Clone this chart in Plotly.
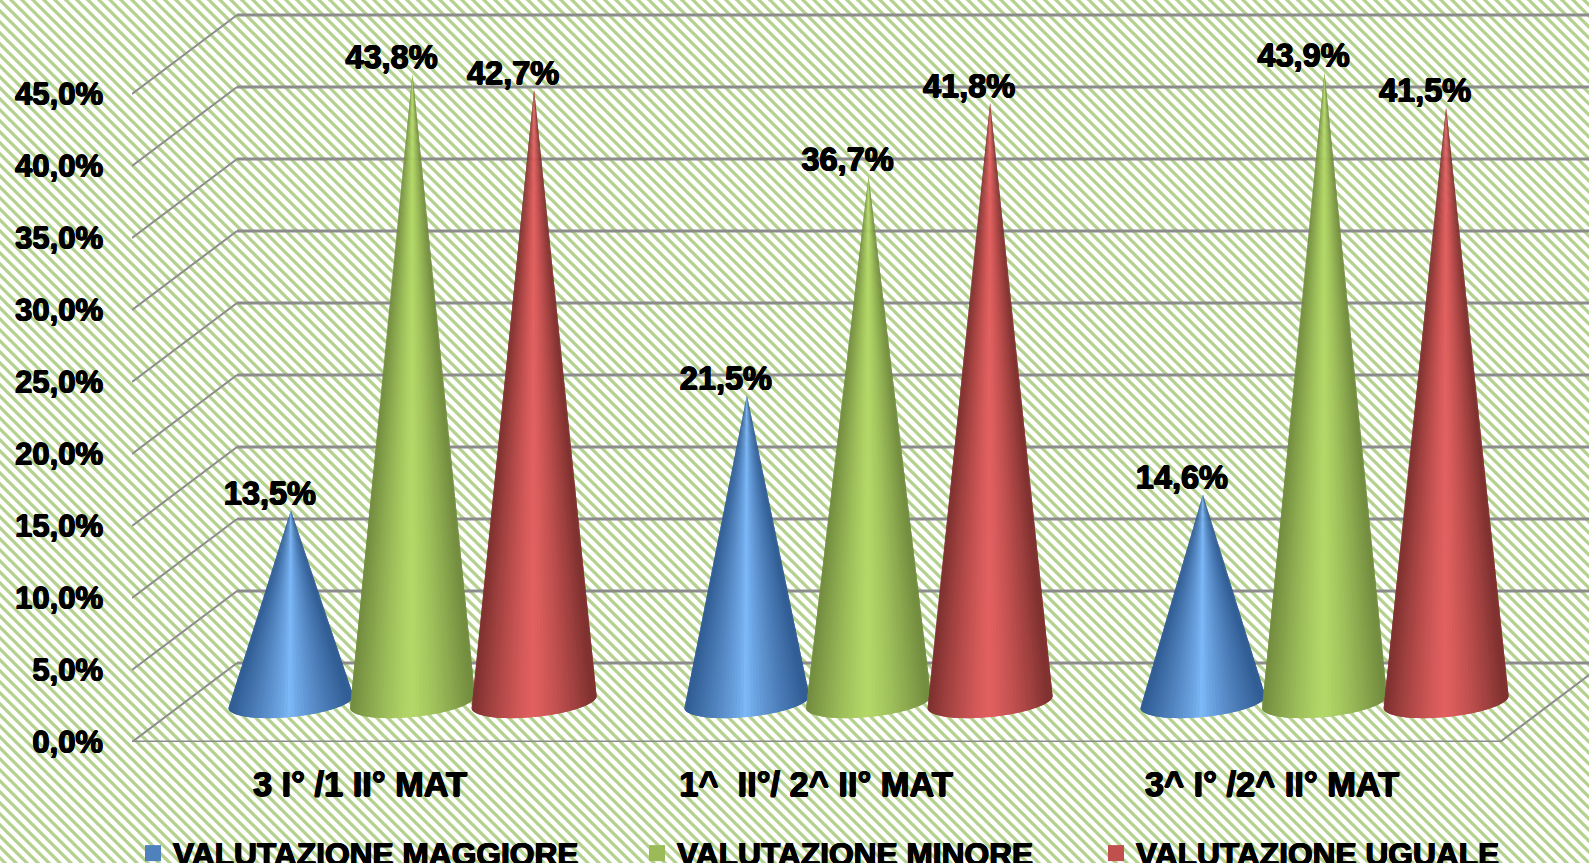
import base64
import math
import plotly.graph_objects as go

# ---- data ----
categories = ["3 I° /1 II° MAT", "1^  II°/ 2^ II° MAT", "3^ I° /2^ II° MAT"]
valutazione_maggiore = [13.5, 21.5, 14.6]
valutazione_minore = [43.8, 36.7, 43.9]
valutazione_uguale = [42.7, 41.8, 41.5]
series_names = ["VALUTAZIONE MAGGIORE", "VALUTAZIONE MINORE", "VALUTAZIONE UGUALE"]
y_ticks = [0, 5, 10, 15, 20, 25, 30, 35, 40, 45]
y_tick_labels = ["0,0%", "5,0%", "10,0%", "15,0%", "20,0%", "25,0%", "30,0%", "35,0%", "40,0%", "45,0%"]

# ---- style ----
W, H = 1589, 863
ML, MB = 132, 121
PX_Y = 14.4      # pixels per percentage point
PX_X = 456.0     # pixels per category
GRID = "#8c8c8c"
FONT = "Liberation Sans, Arial, sans-serif"
SHADOW = "0.7px 0 0 #000, -0.7px 0 0 #000, 0 0.5px 0 #000, 0 -0.5px 0 #000"
DEPTH_X = 105 / PX_X
DEPTH_Y = 79 / PX_Y
X_MAX = (W - ML) / PX_X
Y_MAX = (H - MB) / PX_Y
palette = [
    {"edge": (50, 94, 150), "mid": (126, 186, 250), "swatch": "#4f81bd", "pow": 0.8},
    {"edge": (116, 142, 64), "mid": (180, 216, 104), "swatch": "#9bbb59", "pow": 1.2},
    {"edge": (128, 50, 48), "mid": (226, 96, 96), "swatch": "#c0504d", "pow": 1.2},
]

fig = go.Figure()


def grid_line(xs, ys, width):
    fig.add_trace(go.Scatter(x=xs, y=ys, mode="lines", line=dict(color=GRID, width=width),
                             hoverinfo="skip", showlegend=False))


# walls and floor grid
for t in y_ticks:
    grid_line([0, DEPTH_X], [t, t + DEPTH_Y], 2)
    grid_line([DEPTH_X, X_MAX], [t + DEPTH_Y, t + DEPTH_Y], 3)
grid_line([0, 3], [0, 0], 3)
grid_line([3, 3 + DEPTH_X], [0, DEPTH_Y], 2)


def shade(c, u):
    d = min(1.0, abs(u + 0.02) / 0.95) ** c["pow"]
    rgb = [round(c["mid"][i] + (c["edge"][i] - c["mid"][i]) * d) for i in range(3)]
    return "rgb(%d,%d,%d)" % tuple(rgb)


def cone(cx, value, c):
    n = 56
    r = 62.5 / PX_X
    base = DEPTH_Y / 2 + 0.5 / PX_Y
    apex_y = value + 37 / PX_Y
    ry, sk = 15 / PX_Y, 6 / PX_Y

    def rim(a):
        return cx + r * math.cos(a), base - ry * math.sin(a) + sk * math.cos(a)

    for i in range(n):
        # each strip reaches over its neighbour, so no seams show between them
        a0 = math.pi * (1 - i / n)
        a1 = max(0.0, math.pi * (1 - (i + 2) / n))
        am = math.pi * (1 - (i + 0.5) / n)
        col = shade(c, math.cos(am))
        steps = [a0 + (a1 - a0) * k / 4 for k in range(5)]
        pts = [rim(a) for a in steps]
        xs = [p[0] for p in pts] + [cx, pts[0][0]]
        ys = [p[1] for p in pts] + [apex_y, pts[0][1]]
        fig.add_trace(go.Scatter(
            x=xs, y=ys, mode="lines", fill="toself", fillcolor=col,
            line=dict(color=col, width=0), hoverinfo="skip", showlegend=False))


series = [valutazione_maggiore, valutazione_minore, valutazione_uguale]
for g in range(len(categories)):
    for s, vals in enumerate(series):
        cx = g + 0.5 + DEPTH_X / 2 + (s - 1) * 121.6 / PX_X
        cone(cx, vals[g], palette[s])

# data labels
for s, vals in enumerate(series):
    xs = [g + 0.5 + DEPTH_X / 2 + (s - 1) * 121.6 / PX_X - 21 / PX_X for g in range(len(categories))]
    ys = [v + 37 / PX_Y + 14 / PX_Y for v in vals]
    fig.add_trace(go.Scatter(
        x=xs, y=ys, mode="text",
        text=[f"{v:.1f}%".replace(".", ",") for v in vals],
        textposition="middle center",
        textfont=dict(family=FONT, size=32.5, color="#000", weight="bold", shadow=SHADOW),
        hoverinfo="skip", showlegend=False))

# legends
legend_left = [133, 637, 1096]
legend_y = -84 / (H - MB)
for s, name in enumerate(series_names):
    key = "legend" if s == 0 else f"legend{s + 1}"
    fig.add_trace(go.Scatter(
        x=[None], y=[None], mode="markers", name=name, legend=key,
        marker=dict(symbol="square", size=18, color=palette[s]["swatch"])))
legend_common = dict(
    orientation="h", yanchor="top", xanchor="left", y=legend_y,
    bgcolor="rgba(0,0,0,0)", borderwidth=0, itemclick=False, itemdoubleclick=False,
    font=dict(family=FONT, size=31.7, color="#000", weight="bold", shadow=SHADOW))

# hatched page background
hatch = (
    f'<svg xmlns="http://www.w3.org/2000/svg" width="{W}" height="{H}">'
    '<defs><pattern id="h" patternUnits="userSpaceOnUse" width="11" height="11">'
    '<rect width="11" height="11" fill="#ffffff"/>'
    '<path d="M-3,-3 L14,14 M-3,8 L3,14 M8,-3 L14,3" stroke="#b4d18e" stroke-width="3.3"/>'
    '</pattern></defs>'
    f'<rect width="{W}" height="{H}" fill="url(#h)"/></svg>'
)
uri = "data:image/svg+xml;base64," + base64.b64encode(hatch.encode()).decode()

fig.update_layout(
    width=W, height=H, autosize=False,
    margin=dict(l=ML, r=0, t=0, b=MB, pad=0, autoexpand=False),
    paper_bgcolor="#ffffff", plot_bgcolor="rgba(0,0,0,0)",
    showlegend=True,
    legend=dict(x=(legend_left[0] - ML) / (W - ML), **legend_common),
    legend2=dict(x=(legend_left[1] - ML) / (W - ML), **legend_common),
    legend3=dict(x=(legend_left[2] - ML) / (W - ML), **legend_common),
    images=[dict(source=uri, xref="paper", yref="paper",
                 x=-ML / (W - ML), y=1, sizex=W / (W - ML), sizey=H / (H - MB),
                 xanchor="left", yanchor="top", sizing="stretch", layer="below")],
    xaxis=dict(range=[0, X_MAX], showgrid=False, zeroline=False, showline=False,
               tickmode="array", tickvals=[g + 0.5 for g in range(len(categories))],
               ticktext=categories, ticks="", ticklabelstandoff=19,
               tickfont=dict(family=FONT, size=34.4, color="#000", weight="bold", shadow=SHADOW)),
    yaxis=dict(range=[0, Y_MAX], showgrid=False, zeroline=False, showline=False,
               tickmode="array", tickvals=y_ticks, ticktext=y_tick_labels, ticks="",
               ticklabelstandoff=28,
               tickfont=dict(family=FONT, size=31, color="#000", weight="bold", shadow=SHADOW)),
)

fig.write_html("out.html", config={"displayModeBar": False},
               post_script="document.body.style.margin='0';document.body.style.overflow='hidden';")
